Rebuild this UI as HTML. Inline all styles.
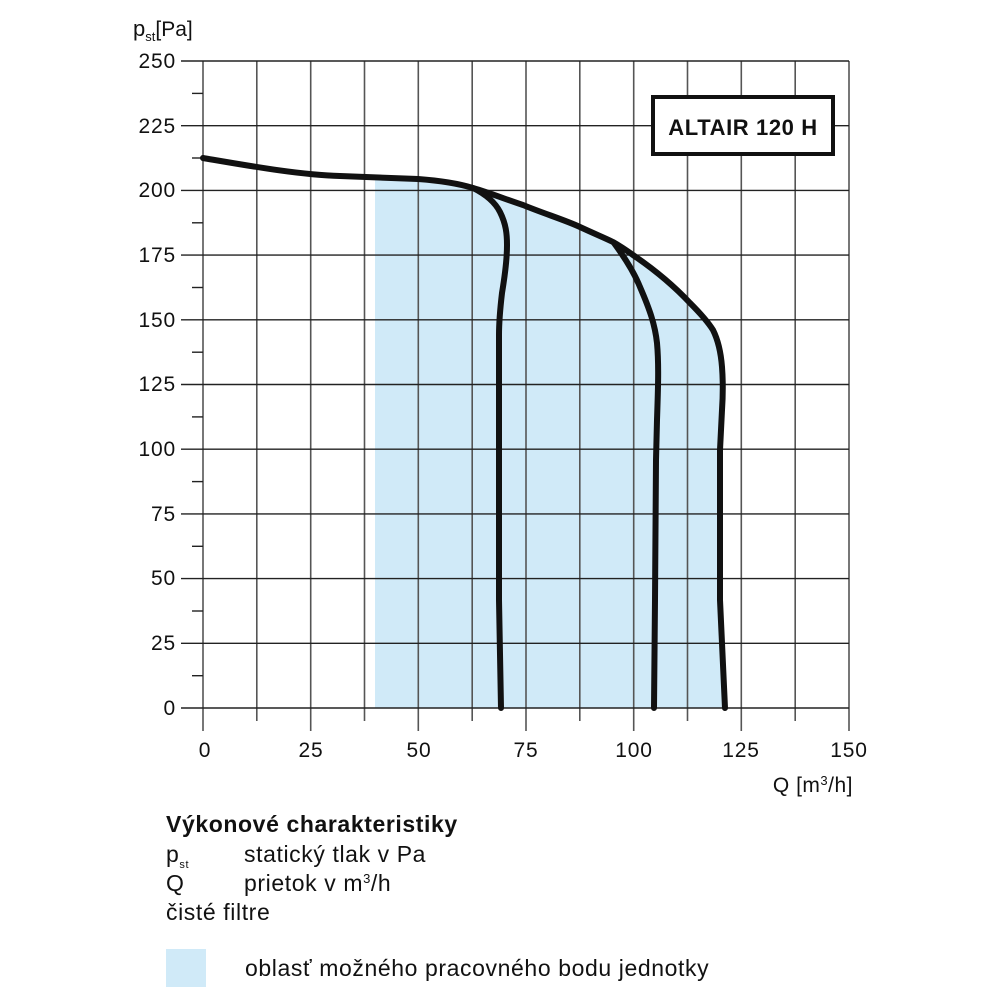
<!DOCTYPE html>
<html><head><meta charset="utf-8"><style>
body{margin:0;background:#fff;width:1000px;height:1000px;overflow:hidden}
svg{position:absolute;left:0;top:0}
text{font-family:"Liberation Sans",sans-serif;fill:#111}
</style></head><body>
<svg width="1000" height="1000" viewBox="0 0 1000 1000">
<path d="M375,179 L418,179 C445,181 460,184 473,188 C490,193 505,199 523,205 C545,214 565,220 580,227 C595,234 605,238 613,242 C620,246 626,250 633,255 C655,270 675,287 690,303 C700,313 708,322 713,330 C719,342 721,354 722,367 C723,380 723,395 723,410 L720,450 L720,600 L725,708 L375,708 Z" fill="#d0eaf8"/>
<g stroke="#555" stroke-width="1.6">
<line x1="203" y1="61" x2="203" y2="731"/>
<line x1="256.8" y1="61" x2="256.8" y2="721"/>
<line x1="310.7" y1="61" x2="310.7" y2="731"/>
<line x1="364.5" y1="61" x2="364.5" y2="721"/>
<line x1="418.3" y1="61" x2="418.3" y2="731"/>
<line x1="472.2" y1="61" x2="472.2" y2="721"/>
<line x1="526" y1="61" x2="526" y2="731"/>
<line x1="579.8" y1="61" x2="579.8" y2="721"/>
<line x1="633.7" y1="61" x2="633.7" y2="731"/>
<line x1="687.5" y1="61" x2="687.5" y2="721"/>
<line x1="741.3" y1="61" x2="741.3" y2="731"/>
<line x1="795.2" y1="61" x2="795.2" y2="721"/>
<line x1="849" y1="61" x2="849" y2="731"/>
</g>
<g stroke="#222" stroke-width="1.4">
<line x1="181" y1="61" x2="849" y2="61"/>
<line x1="181" y1="125.7" x2="849" y2="125.7"/>
<line x1="181" y1="190.4" x2="849" y2="190.4"/>
<line x1="181" y1="255.1" x2="849" y2="255.1"/>
<line x1="181" y1="319.8" x2="849" y2="319.8"/>
<line x1="181" y1="384.5" x2="849" y2="384.5"/>
<line x1="181" y1="449.2" x2="849" y2="449.2"/>
<line x1="181" y1="513.9" x2="849" y2="513.9"/>
<line x1="181" y1="578.6" x2="849" y2="578.6"/>
<line x1="181" y1="643.3" x2="849" y2="643.3"/>
<line x1="181" y1="708" x2="849" y2="708"/>
<line x1="192" y1="93.4" x2="203" y2="93.4"/>
<line x1="192" y1="158" x2="203" y2="158"/>
<line x1="192" y1="222.8" x2="203" y2="222.8"/>
<line x1="192" y1="287.5" x2="203" y2="287.5"/>
<line x1="192" y1="352.2" x2="203" y2="352.2"/>
<line x1="192" y1="416.9" x2="203" y2="416.9"/>
<line x1="192" y1="481.6" x2="203" y2="481.6"/>
<line x1="192" y1="546.3" x2="203" y2="546.3"/>
<line x1="192" y1="611" x2="203" y2="611"/>
<line x1="192" y1="675.7" x2="203" y2="675.7"/>
</g>
<g font-size="21" text-anchor="end" letter-spacing="0.8">
<text x="176" y="68">250</text><text x="176" y="133">225</text><text x="176" y="197">200</text>
<text x="176" y="262">175</text><text x="176" y="327">150</text><text x="176" y="391">125</text>
<text x="176" y="456">100</text><text x="176" y="521">75</text><text x="176" y="585">50</text>
<text x="176" y="650">25</text><text x="176" y="715">0</text>
</g>
<g font-size="21" text-anchor="middle" letter-spacing="0.8">
<text x="205" y="757">0</text><text x="311" y="757">25</text><text x="419" y="757">50</text>
<text x="526" y="757">75</text><text x="634" y="757">100</text><text x="741" y="757">125</text><text x="849" y="757">150</text>
</g>
<text x="133" y="36" font-size="22">p<tspan font-size="13" dy="5">st</tspan><tspan dy="-5" font-size="21">[Pa]</tspan></text>
<text x="853" y="792" font-size="21" text-anchor="end" letter-spacing="0.5">Q [m<tspan font-size="13" dy="-7">3</tspan><tspan dy="7">/h]</tspan></text>
<g fill="none" stroke="#111" stroke-width="6" stroke-linecap="round">
<path d="M203,158 C250,166 300,175 340,176 L418,179 C445,181 460,184 473,188 C490,193 505,199 523,205 C545,214 565,220 580,227 C595,234 605,238 613,242 C620,246 626,250 633,255 C655,270 675,287 690,303 C700,313 708,322 713,330 C719,342 721,354 722,367 C723,380 723,395 722,410 L720,450 L720,600 L725,708"/>
<path d="M473,188 C485,194 495,202 500,212 C506,224 507,234 507,245 C507,258 505,275 502,293 C500,310 499,320 499,335 L499,600 L501,708"/>
<path d="M614,243 C625,258 634,272 640,287 C650,310 655,325 657,343 C659,365 658,390 657,420 L656,460 L655,600 L654,708"/>
</g>
<rect x="653" y="97" width="180" height="57" fill="#fff" stroke="#111" stroke-width="4"/>
<text x="743" y="135" font-size="22" font-weight="bold" text-anchor="middle" letter-spacing="0.6">ALTAIR 120 H</text>
<g letter-spacing="0.6">
<text x="166" y="832" font-size="23" font-weight="bold">Výkonové charakteristiky</text>
<text x="166" y="862" font-size="23">p<tspan font-size="11" dy="6">st</tspan></text>
<text x="244" y="862" font-size="23">statický tlak v Pa</text>
<text x="166" y="891" font-size="23">Q</text>
<text x="244" y="891" font-size="23">prietok v m<tspan font-size="13" dy="-8">3</tspan><tspan dy="8">/h</tspan></text>
<text x="166" y="920" font-size="23">čisté filtre</text>
<text x="245" y="976" font-size="23">oblasť možného pracovného bodu jednotky</text>
</g>
<rect x="166" y="949" width="40" height="38" fill="#d0eaf8"/>
</svg>
</body></html>
